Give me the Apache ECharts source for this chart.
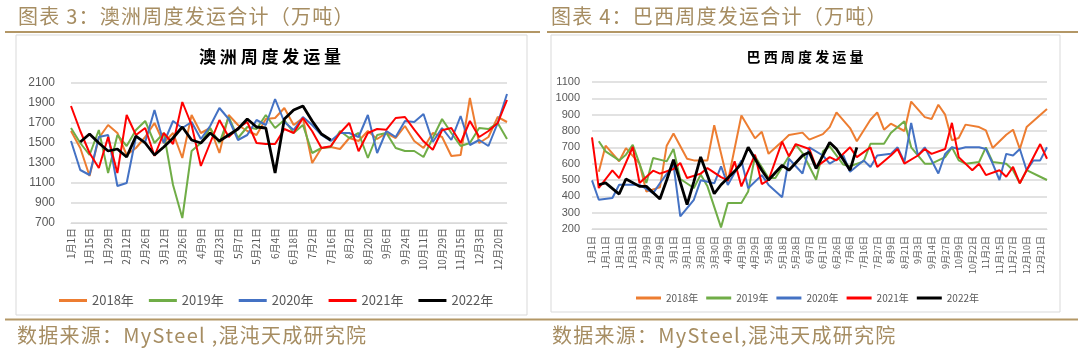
<!DOCTYPE html>
<html>
<head>
<meta charset="utf-8">
<script src="https://cdn.jsdelivr.net/npm/echarts@6/dist/echarts.min.js"></script>
<style>
  html, body { margin: 0; padding: 0; background: #ffffff; }
  #chart { width: 1080px; height: 350px; }
</style>
</head>
<body>
<div id="chart"></div>
<script>
// ---- Australia weekly shipments (10k t) ----
const auCategories = ['1月1日','1月8日','1月15日','1月22日','1月29日','2月5日','2月12日','2月19日','2月26日','3月5日',
  '3月12日','3月19日','3月26日','4月2日','4月9日','4月16日','4月23日','4月30日','5月7日','5月14日',
  '5月21日','5月28日','6月4日','6月11日','6月18日','6月25日','7月2日','7月9日','7月16日','7月24日',
  '8月2日','8月11日','8月20日','8月29日','9月6日','9月15日','9月24日','10月2日','10月11日','10月20日',
  '10月29日','11月6日','11月15日','11月24日','12月3日','12月11日','12月20日','12月27日'];
const au2018 = [1620,1450,1170,1550,1680,1600,1380,1450,1560,1700,1500,1600,1350,1780,1600,1650,1400,1780,1680,1620,
  1580,1740,1750,1850,1680,1750,1300,1450,1460,1440,1550,1520,1620,1540,1600,1550,1670,1520,1450,1600,
  1560,1370,1380,1950,1500,1560,1760,1710];
const au2019 = [1650,1500,1380,1630,1200,1580,1470,1630,1720,1500,1600,1080,750,1420,1500,1650,1500,1760,1550,1660,
  1640,1780,1650,1730,1600,1680,1400,1450,1460,1620,1550,1600,1350,1580,1600,1450,1420,1420,1360,1550,
  1740,1600,1470,1500,1650,1640,1700,1540];
const au2020 = [1520,1230,1180,1560,1580,1070,1100,1560,1510,1830,1500,1720,1650,1710,1540,1670,1850,1740,1530,1580,
  1730,1680,1940,1710,1630,1760,1680,1580,1520,1600,1600,1560,1780,1400,1620,1560,1720,1710,1790,1510,
  1650,1530,1770,1480,1530,1470,1700,1990];
const au2021 = [1870,1620,1400,1250,1560,1200,1780,1580,1650,1370,1600,1490,1910,1680,1270,1500,1730,1560,1650,1710,
  1500,1490,1490,1640,1600,1750,1617,1450,1467,1600,1700,1417,1600,1640,1633,1750,1760,1633,1517,1433,
  1627,1650,1500,1720,1560,1620,1700,1930];
const au2022 = [null,1510,1590,1500,1420,1440,1360,1570,1500,1380,1460,1550,1660,1530,1500,1600,1520,1580,1640,1740,
  1660,1650,1200,1740,1830,1870,1720,1590,1530];

// ---- Brazil weekly shipments (10k t) ----
const brCategories = ['1月1日','1月6日','1月11日','1月16日','1月21日','1月26日','1月31日','2月4日','2月9日','2月14日',
  '2月19日','2月24日','3月1日','3月6日','3月11日','3月15日','3月20日','3月25日','3月30日','4月4日',
  '4月9日','4月14日','4月19日','4月24日','4月29日','5月3日','5月8日','5月13日','5月18日','5月23日',
  '5月28日','6月2日','6月7日','6月12日','6月17日','6月21日','6月26日','7月1日','7月6日','7月11日',
  '7月16日','7月21日','7月27日','8月3日','8月9日','8月15日','8月21日','8月27日','9月3日','9月8日',
  '9月14日','9月20日','9月27日','10月3日','10月9日','10月15日','10月22日','10月28日','11月2日','11月8日',
  '11月15日','11月21日','11月27日','12月3日','12月10日','12月15日','12月21日','12月27日'];
const br2018 = [null,550,710,null,615,695,null,600,430,null,
  455,710,785,null,630,620,null,620,835,null,
  490,null,895,null,755,795,660,null,735,775,
  null,790,747,null,781,824,914,null,818,737,
  null,869,914,808,845,null,800,980,null,885,
  873,961,900,743,757,839,null,824,804,696,
  null,777,808,690,824,null,null,934];
const br2019 = [null,737,675,null,620,655,716,null,482,635,
  null,614,690,506,null,451,533,461,null,210,
  359,null,359,430,645,null,512,512,null,645,
  716,665,null,502,675,706,null,594,584,null,
  614,722,null,722,788,null,860,700,null,600,
  600,null,640,700,620,600,null,610,700,610,
  null,600,560,480,560,null,520,500];
const br2020 = [498,379,null,390,471,null,471,471,null,420,
  480,null,594,277,null,379,498,null,480,584,
  470,null,620,450,null,530,470,null,395,630,
  null,540,700,null,650,600,null,650,550,null,
  620,580,650,null,660,700,610,850,650,700,
  null,540,660,700,690,700,null,700,690,600,
  500,660,650,690,560,620,620,700];
const br2021 = [761,451,null,559,512,null,702,482,null,557,
  539,null,567,604,512,null,539,573,null,518,
  498,614,461,null,655,475,500,null,735,645,
  720,null,690,580,null,640,620,null,700,640,
  null,700,580,null,650,690,600,null,650,690,
  660,null,690,850,640,null,560,600,530,null,
  560,520,580,480,560,null,720,630];
const br2022 = [null,471,482,null,414,506,null,461,461,null,
  384,500,624,null,349,490,641,null,416,471,
  null,553,600,700,null,560,500,null,590,560,
  null,650,670,570,null,730,690,null,560,700];

const yearNames = ['2018年', '2019年', '2020年', '2021年', '2022年'];
const yearColors = ['#ED7D31', '#70AD47', '#4472C4', '#FF0000', '#000000'];
const auSeries = [au2018, au2019, au2020, au2021, au2022];
const brSeries = [br2018, br2019, br2020, br2021, br2022];

const headerColor = '#a68d62';
const cjk = '"Noto Sans CJK SC", "Noto Sans", sans-serif';
const gridColor = '#d9d9d9';
const labelColor = '#595959';
const gap = '\u200A';
// spread header glyphs a little, the way the report's typeface sets them
const spaced = s => Array.from(s).join(gap);

function makeSeries(list, axisIndex) {
  return list.map((data, i) => ({
    name: yearNames[i],
    type: 'line',
    xAxisIndex: axisIndex,
    yAxisIndex: axisIndex,
    data: data,
    symbol: 'none',
    connectNulls: true,
    z: i === 4 ? 5 : 2,
    lineStyle: { color: yearColors[i], width: i === 4 ? 2.8 : 2 },
    itemStyle: { color: yearColors[i] }
  }));
}

function categoryAxis(gridIndex, cats, fontSize, margin) {
  return {
    type: 'category', gridIndex: gridIndex, data: cats, boundaryGap: false,
    axisLine: { show: true, lineStyle: { color: gridColor, width: 1 } },
    axisTick: { show: false },
    axisLabel: { interval: 1, rotate: 90, fontSize: fontSize, color: labelColor, margin: margin, fontFamily: cjk }
  };
}

function valueAxis(gridIndex, min, max, step, fontSize, margin) {
  return {
    type: 'value', gridIndex: gridIndex, min: min, max: max, interval: step,
    axisLine: { show: false }, axisTick: { show: false },
    splitLine: { lineStyle: { color: gridColor, width: 1.5 } },
    axisLabel: { fontSize: fontSize, color: labelColor, margin: margin, fontFamily: 'Liberation Sans, sans-serif',
      formatter: v => String(v) }
  };
}

const chart = echarts.init(document.getElementById('chart'), null, { renderer: 'canvas' });
chart.setOption({
  animation: false,
  backgroundColor: '#ffffff',
  graphic: [
    { type: 'text', x: 18, y: 16, style: { text: spaced('图表 3：澳洲周度发运合计（万吨）'), fill: headerColor, fontSize: 20, fontFamily: cjk, verticalAlign: 'middle' } },
    { type: 'text', x: 551, y: 16, style: { text: spaced('图表 4：巴西周度发运合计（万吨）'), fill: headerColor, fontSize: 20, fontFamily: cjk, verticalAlign: 'middle' } },
    { type: 'line', shape: { x1: 5, y1: 32, x2: 540, y2: 32 }, style: { stroke: '#b39766', lineWidth: 2 } },
    { type: 'line', shape: { x1: 547, y1: 32, x2: 1078, y2: 32 }, style: { stroke: '#b39766', lineWidth: 2 } },
    { type: 'rect', shape: { x: 16, y: 35, width: 511, height: 280 }, style: { fill: 'none', stroke: '#d9d9d9', lineWidth: 1 }, z: -1 },
    { type: 'rect', shape: { x: 551, y: 35, width: 509, height: 277 }, style: { fill: 'none', stroke: '#d9d9d9', lineWidth: 1 }, z: -1 },
    { type: 'line', shape: { x1: 5, y1: 319.5, x2: 1078, y2: 319.5 }, style: { stroke: '#b39766', lineWidth: 2 } },
    { type: 'text', x: 17, y: 335, style: { text: spaced('数据来源：MySteel ,混沌天成研究院'), fill: headerColor, fontSize: 20, fontFamily: cjk, verticalAlign: 'middle' } },
    { type: 'text', x: 552, y: 335, style: { text: spaced('数据来源：MySteel,混沌天成研究院'), fill: headerColor, fontSize: 20, fontFamily: cjk, verticalAlign: 'middle' } },
    { type: 'text', x: 270, y: 57, style: { text: '澳 洲 周 度 发 运 量', fill: '#000000', fontSize: 17, fontWeight: 'bold', fontFamily: cjk, align: 'center', verticalAlign: 'middle' } },
    { type: 'text', x: 805, y: 57, style: { text: '巴 西 周 度 发 运 量', fill: '#000000', fontSize: 14, fontWeight: 'bold', fontFamily: cjk, align: 'center', verticalAlign: 'middle' } }
  ],
  legend: [
    { data: yearNames, left: 54, top: 289, icon: 'rect', itemWidth: 28, itemHeight: 3, itemGap: 15,
      textStyle: { fontSize: 13, color: labelColor, fontFamily: cjk } },
    { data: yearNames, left: 631, top: 288, icon: 'rect', itemWidth: 25, itemHeight: 3, itemGap: 8,
      textStyle: { fontSize: 10, color: labelColor, fontFamily: cjk } }
  ],
  grid: [
    { left: 71, top: 83, width: 436, height: 140 },
    { left: 592, top: 82, width: 455, height: 147 }
  ],
  xAxis: [categoryAxis(0, auCategories, 10, 5), categoryAxis(1, brCategories, 9, 7)],
  yAxis: [valueAxis(0, 700, 2100, 200, 12, 16), valueAxis(1, 200, 1100, 100, 11, 12)],
  series: makeSeries(auSeries, 0).concat(makeSeries(brSeries, 1))
});
</script>
</body>
</html>
